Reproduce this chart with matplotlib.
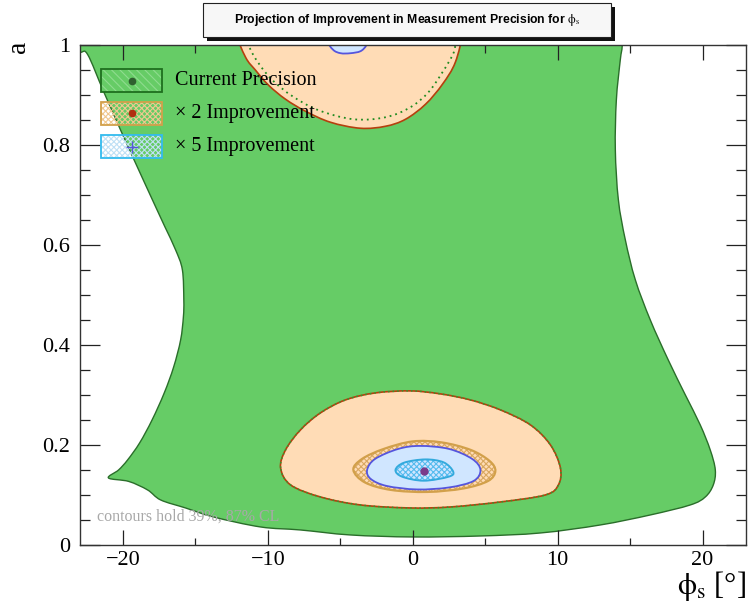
import matplotlib
matplotlib.use("Agg")
import matplotlib.pyplot as plt
from matplotlib.patches import PathPatch, Rectangle
from matplotlib.path import Path
from matplotlib.ticker import MultipleLocator, FuncFormatter

plt.rcParams['mathtext.fontset'] = 'stix'
plt.rcParams['hatch.linewidth'] = 0.8

SERIF = ['Liberation Serif', 'DejaVu Serif']

# ---- regions in the (phi_s [deg], a) plane ----
# current precision, outer contour
cur_phi = [-24.0, 14.5, 14.49, 14.46, 14.32, 14.05, 13.98, 14.19, 14.67, 15.36, 16.39, 17.63,
           18.81, 19.84, 20.53, 20.88, 20.74, 20.19, 19.15, 16.39, 12.94, 8.81, 4.67,
           0.0, -4.3, -7.75, -10.5, -13.75, -15.68, -17.4, -18.3, -19.6, -21.0,
           -20.3, -19.68, -18.85, -17.99, -17.15, -16.5, -16.02, -15.83, -15.8, -15.9,
           -16.37, -17.09, -17.81, -18.92, -20.02, -21.33, -22.43, -22.95, -24.0]
cur_a = [1.1, 1.1, 1.06, 1.0, 0.969, 0.889, 0.79, 0.69, 0.61, 0.53, 0.45, 0.37,
         0.30, 0.24, 0.19, 0.15, 0.12, 0.096, 0.08, 0.06, 0.04, 0.024, 0.018,
         0.016, 0.02, 0.03, 0.036, 0.056, 0.074, 0.09, 0.11, 0.127, 0.134,
         0.15, 0.17, 0.204, 0.25, 0.304, 0.356, 0.41, 0.456, 0.49, 0.55,
         0.59, 0.635, 0.68, 0.75, 0.82, 0.906, 0.98, 0.985, 0.985]

# current precision, inner contour (upper island)
cur_in_phi = [-11.6, -11.33, -10.64, -9.68, -8.3, -6.5, -4.09, -1.88, -0.16, 1.08, 2.05, 2.74,
              2.94, 3.05]
cur_in_a = [1.05, 1.0, 0.963, 0.929, 0.897, 0.869, 0.851, 0.855, 0.875, 0.905, 0.945, 0.979,
            1.0, 1.05]

# x2 improvement, outer contour: upper island
x2_up_phi = [-12.5, -12.3, -11.54, -10.85, -9.95, -8.78, -7.4, -5.68, -3.61, -1.88, -0.5,
             0.88, 2.05, 2.94, 3.5, 3.6]
x2_up_a = [1.08, 1.03, 0.975, 0.949, 0.919, 0.891, 0.867, 0.845, 0.833, 0.837, 0.851,
           0.881, 0.921, 0.965, 1.03, 1.08]

# x2 improvement, outer contour: lower island
x2_lo_phi = [-9.12, -8.78, -7.75, -6.37, -4.64, -2.57, -0.16, 1.91, 3.97, 6.05, 8.12,
             9.5, 10.19, 10.05, 9.15, 6.05, 2.6, -0.16, -3.61, -6.37, -8.43]
x2_lo_a = [0.154, 0.19, 0.23, 0.264, 0.29, 0.304, 0.308, 0.302, 0.29, 0.27, 0.24,
           0.2, 0.154, 0.12, 0.1, 0.086, 0.076, 0.074, 0.08, 0.096, 0.12]

# x2 improvement, inner contour
x2_in_phi = [-4.1, -3.5, -2.0, 0.0, 2.0, 4.0, 5.3, 5.7, 5.2, 3.5, 1.0, -1.5, -3.3]
x2_in_a = [0.150, 0.172, 0.192, 0.207, 0.205, 0.190, 0.168, 0.148, 0.128, 0.113,
           0.106, 0.110, 0.125]

# x5 improvement, outer contour: lower island
x5_lo_phi = [-3.15, -2.6, -1.0, 0.5, 2.5, 4.1, 4.67, 4.2, 2.5, 0.3, -1.8, -2.9]
x5_lo_a = [0.15, 0.172, 0.192, 0.198, 0.192, 0.172, 0.15, 0.128, 0.115, 0.111,
           0.118, 0.132]

# x5 improvement, outer contour: upper island
x5_up_phi = [-6.0, -5.9, -5.5, -4.98, -4.3, -3.61, -3.22, -3.12, -3.05]
x5_up_a = [1.06, 1.01, 0.99, 0.983, 0.983, 0.987, 0.998, 1.01, 1.06]

# x5 improvement, inner contour
x5_in_phi = [-1.19, -0.6, 0.88, 2.14, 2.79, 2.48, 0.76, -0.73]
x5_in_a = [0.150, 0.1645, 0.171, 0.165, 0.1465, 0.1365, 0.1285, 0.1365]

# best-fit point
best_phi = 0.8
best_a = 0.148

GREEN = '#66cc66'
GREEN_EDGE = '#2a6e2a'
PEACH = '#ffdcb6'
PEACH_EDGE = '#b5400e'
TAN = '#d2a04a'
LBLUE = '#d0e6ff'
BLUE_EDGE = '#5555dd'
CYAN = '#33aadd'

fig = plt.figure(figsize=(7.5, 6.1), dpi=100)
ax = fig.add_axes([0.106, 0.1066, 0.8887, 0.8201])
ax.set_xlim(-23, 23)
ax.set_ylim(0, 1)


def contour_path(xs, ys, closed=True):
    """Smooth outline (Catmull-Rom as cubic Bezier) through the given vertices."""
    pts = list(zip(xs, ys))
    n = len(pts)
    verts = [pts[0]]
    codes = [Path.MOVETO]
    segs = range(n) if closed else range(n - 1)
    for i in segs:
        if closed:
            p0, p1, p2, p3 = pts[(i - 1) % n], pts[i], pts[(i + 1) % n], pts[(i + 2) % n]
        else:
            p0, p1, p2, p3 = pts[max(i - 1, 0)], pts[i], pts[i + 1], pts[min(i + 2, n - 1)]
        c1 = (p1[0] + (p2[0] - p0[0]) / 6, p1[1] + (p2[1] - p0[1]) / 6)
        c2 = (p2[0] - (p3[0] - p1[0]) / 6, p2[1] - (p3[1] - p1[1]) / 6)
        verts += [c1, c2, p2]
        codes += [Path.CURVE4] * 3
    if closed:
        verts.append(pts[0])
        codes.append(Path.CLOSEPOLY)
    return Path(verts, codes)


def region(phi, a, closed=True, **kw):
    p = PathPatch(contour_path(phi, a, closed), **kw)
    ax.add_patch(p)
    return p


# current precision
region(cur_phi, cur_a, facecolor=GREEN, edgecolor=GREEN_EDGE, lw=1.0, zorder=1)

# x2 improvement
region(x2_up_phi, x2_up_a, facecolor=PEACH, edgecolor=PEACH_EDGE, lw=1.2, zorder=2)
region(x2_lo_phi, x2_lo_a, facecolor=PEACH, edgecolor=PEACH_EDGE, lw=1.2, zorder=2)
region(x2_lo_phi, x2_lo_a, facecolor='none', edgecolor='#2f9a2f', lw=1.1,
       linestyle=(0, (1, 2)), zorder=2.1)
region(cur_in_phi, cur_in_a, closed=False, facecolor='none', edgecolor='#1f8a1f', lw=1.3,
       linestyle=(0, (1, 2.2)), zorder=2.2)

region(x2_in_phi, x2_in_a, facecolor='none', edgecolor='#d9a860', hatch='xxxxxx', lw=0,
       zorder=3.1)
region(x2_in_phi, x2_in_a, facecolor='none', edgecolor=TAN, lw=1.6, zorder=3.2)

# x5 improvement
region(x5_lo_phi, x5_lo_a, facecolor=LBLUE, edgecolor=BLUE_EDGE, lw=1.3, zorder=4)
region(x5_up_phi, x5_up_a, facecolor=LBLUE, edgecolor=BLUE_EDGE, lw=1.3, zorder=4)
region(x5_in_phi, x5_in_a, facecolor='none', edgecolor='#55bbee', hatch='xxxxxx', lw=0,
       zorder=4.1)
region(x5_in_phi, x5_in_a, facecolor='none', edgecolor=CYAN, lw=1.4, zorder=4.2)

ax.plot([best_phi], [best_a], marker='o', ms=5, color='#7a3a8a', zorder=5)

# axes styling
ax.xaxis.set_major_locator(MultipleLocator(10))
ax.xaxis.set_minor_locator(MultipleLocator(5))
ax.yaxis.set_major_locator(MultipleLocator(0.2))
ax.yaxis.set_minor_locator(MultipleLocator(0.05))


def yfmt(v, pos):
    if abs(v) < 1e-9:
        return '0'
    if abs(v - 1) < 1e-9:
        return '1'
    return f'{v:.1f}'


ax.yaxis.set_major_formatter(FuncFormatter(yfmt))
ax.tick_params(which='both', direction='in', top=True, right=True, color='#222222', width=0.9)
ax.tick_params(axis='x', which='major', length=10.8, pad=4)
ax.tick_params(axis='x', which='minor', length=5.4)
ax.tick_params(axis='y', which='major', length=14.4, pad=7)
ax.tick_params(axis='y', which='minor', length=7.2)
for lab in ax.get_xticklabels() + ax.get_yticklabels():
    lab.set_fontfamily(SERIF)
    lab.set_fontsize(16)
for s in ax.spines.values():
    s.set_color('#333333')
    s.set_linewidth(1.0)
    s.set_zorder(10)

# axis titles
fig.text(18 / 750, 1 - 47 / 610, 'a', rotation=90, ha='center', va='center',
         fontsize=20, family=SERIF)
fig.text(746 / 750, 0.026, r'$\mathrm{\phi}_{\mathrm{s}}$ [°]', ha='right', va='baseline',
         fontsize=22, family=SERIF)

# confidence note
ax.text(0.026, 0.056, 'contours hold 39%, 87% CL', transform=ax.transAxes,
        ha='left', va='center', fontsize=11.5, family=SERIF, color='#a8a8a8', zorder=8)

# legend
box_x, box_w = 0.0323, 0.0915
text_x = 0.1433
rows = [(0.9055, 0.9514, 'Current Precision'),
        (0.8395, 0.8855, '× 2 Improvement'),
        (0.7735, 0.8195, '× 5 Improvement')]
for i, (y0, y1, label) in enumerate(rows):
    h = y1 - y0
    cx, cy = box_x + box_w / 2, (y0 + y1) / 2
    if i == 0:
        ax.add_patch(Rectangle((box_x, y0), box_w, h, transform=ax.transAxes,
                               facecolor=GREEN, edgecolor='none', zorder=8))
        ax.add_patch(Rectangle((box_x, y0), box_w, h, transform=ax.transAxes,
                               facecolor='none', edgecolor='#8fdc8f', hatch='\\\\\\\\',
                               lw=0, zorder=8.1))
        ax.add_patch(Rectangle((box_x, y0), box_w, h, transform=ax.transAxes,
                               facecolor='none', edgecolor='#1f6e1f', lw=1.3, zorder=8.2))
        ax.plot([cx], [cy], 'o', ms=4.5, color='#2f5f2f', transform=ax.transAxes, zorder=8.3)
    elif i == 1:
        ax.add_patch(Rectangle((box_x, y0), box_w, h, transform=ax.transAxes,
                               facecolor='none', edgecolor='#f0c890', hatch='xxxxxx',
                               lw=0, zorder=8.1))
        ax.add_patch(Rectangle((box_x, y0), box_w, h, transform=ax.transAxes,
                               facecolor='none', edgecolor=TAN, lw=1.3, zorder=8.2))
        ax.plot([cx], [cy], 'o', ms=4.5, color='#b03010', transform=ax.transAxes, zorder=8.3)
    else:
        ax.add_patch(Rectangle((box_x, y0), box_w, h, transform=ax.transAxes,
                               facecolor='none', edgecolor='#bfe0f5', hatch='xxxxxx',
                               lw=0, zorder=8.1))
        ax.add_patch(Rectangle((box_x, y0), box_w, h, transform=ax.transAxes,
                               facecolor='none', edgecolor='#33bbee', lw=1.3, zorder=8.2))
        ax.plot([cx], [cy], marker='+', ms=8, mew=1.0, color=BLUE_EDGE,
                transform=ax.transAxes, zorder=8.3)
    ax.text(text_x, cy, label, transform=ax.transAxes, ha='left',
            va='center', fontsize=14.5, family=SERIF, zorder=9)

# title box with shadow
tx0, tx1 = 203 / 750, 611 / 750
ty0, ty1 = 1 - 37 / 610, 1 - 3 / 610
fig.patches.append(Rectangle((tx0 + 4 / 750, ty0 - 4 / 610), tx1 - tx0, ty1 - ty0,
                             transform=fig.transFigure, facecolor='#111111',
                             edgecolor='none', zorder=1))
fig.patches.append(Rectangle((tx0, ty0), tx1 - tx0, ty1 - ty0,
                             transform=fig.transFigure, facecolor='#f7f7f7',
                             edgecolor='#222222', lw=0.8, zorder=2))
fig.text((tx0 + tx1) / 2, (ty0 + ty1) / 2,
         r'Projection of Improvement in Measurement Precision for $\mathrm{\phi}_{\mathrm{s}}$',
         ha='center', va='center', fontsize=8.8, fontweight='bold',
         family=['Liberation Sans', 'DejaVu Sans'], zorder=3)

fig.savefig('out.png', dpi=100)
